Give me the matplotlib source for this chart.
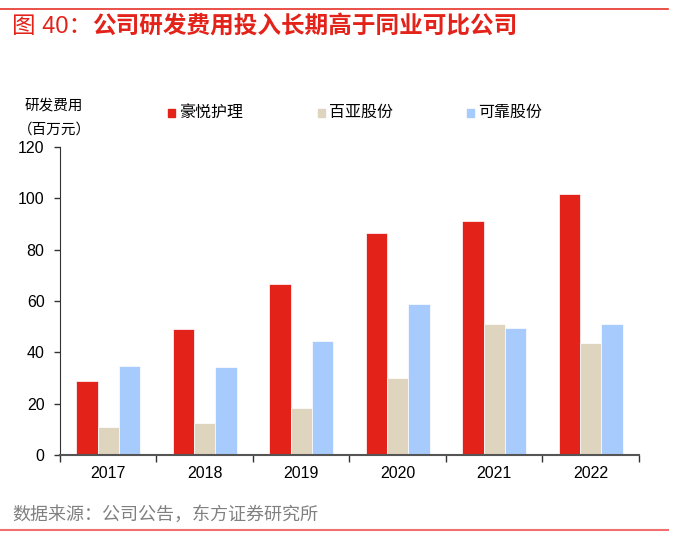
import matplotlib
matplotlib.use('Agg')
import matplotlib.pyplot as plt
import numpy as np
from matplotlib.lines import Line2D
from matplotlib.patches import Rectangle

plt.rcParams['font.family'] = ['Liberation Sans', 'Noto Sans CJK SC', 'DejaVu Sans']

years = ['2017', '2018', '2019', '2020', '2021', '2022']
haoyue = [28.7, 49.0, 66.5, 86.4, 91.2, 101.5]
baiya = [10.8, 12.5, 18.3, 29.9, 51.0, 43.8]
kekao = [34.7, 34.3, 44.4, 59.0, 49.5, 51.0]
names = ['豪悦护理', '百亚股份', '可靠股份']
colors = ['#E3221A', '#DFD5BE', '#A8CBFD']

fig = plt.figure(figsize=(6.73, 5.44), dpi=100)
ax = fig.add_axes([0.089, 0.1636, 0.8605, 0.5662])

x = np.arange(len(years))
w = 0.22
for i, (vals, c) in enumerate(zip([haoyue, baiya, kekao], colors)):
    ax.bar(x + (i - 1) * w, vals, width=w, color=c, edgecolor='white', linewidth=0.5)

ax.set_xlim(-0.5, len(years) - 0.5)
ax.set_ylim(0, 120)
ax.set_yticks(range(0, 121, 20))
ax.set_xticks(x)
ax.set_xticklabels(years, fontsize=11.5)
ax.set_xticks(np.arange(-0.5, len(years)), minor=True)
ax.tick_params(axis='x', which='major', length=0, pad=8)
ax.tick_params(axis='x', which='minor', length=5, width=1, color='#333333')
ax.tick_params(axis='y', labelsize=11.5, length=4, width=1, color='#333333', pad=7)
for s in ['top', 'right']:
    ax.spines[s].set_visible(False)
ax.spines['left'].set_color('#333333')
ax.spines['bottom'].set_color('#555555')
ax.spines['bottom'].set_linewidth(1.5)

# title and decoration lines
fig.add_artist(Line2D([0, 0.993], [1 - 9/544, 1 - 9/544], color='#E8322A', lw=1.2))
fig.text(0.018, 1 - 27/544, '图 40：', color='#E3221A',
         fontsize=17, va='center', ha='left')
fig.text(92/673, 1 - 27/544, '公司研发费用投入长期高于同业可比公司', color='#E3221A',
         fontsize=17, fontweight='bold', va='center', ha='left')

# y label
fig.text(0.036, 1 - 106/544, '研发费用', fontsize=10.5, va='center', ha='left')
fig.text(0.026, 1 - 130/544, '（百万元）', fontsize=10.5, va='center', ha='left')

# legend
leg_x = [168, 318, 467]
for lx, n, c in zip(leg_x, names, colors):
    fig.add_artist(Rectangle((lx/673, 1 - 117/544), 7/673, 8/544, color=c))
    fig.text((lx + 11)/673, 1 - 112/544, n, fontsize=11.5, va='center', ha='left')

fig.text(0.018, 1 - 515/544, '数据来源：公司公告，东方证券研究所', color='#808080',
         fontsize=13, va='center', ha='left')
fig.add_artist(Line2D([0, 0.993], [1 - 530/544, 1 - 530/544], color='#F07070', lw=1.5))

fig.savefig('out.png', dpi=100)
